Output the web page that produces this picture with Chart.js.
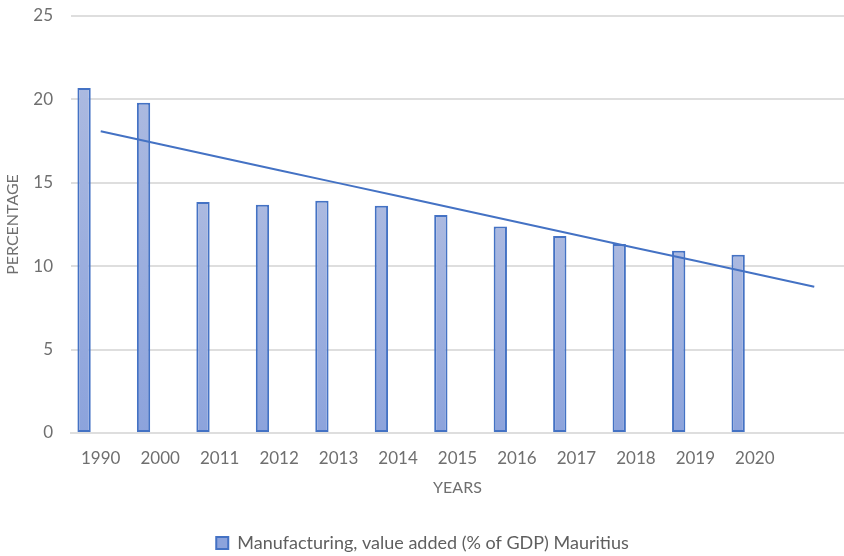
<!DOCTYPE html>
<html>
<head>
<meta charset="utf-8">
<script src="https://cdn.jsdelivr.net/npm/chart.js@4"></script>
<style>
  html, body { margin: 0; padding: 0; background: #ffffff; }
  canvas { display: block; }
</style>
</head>
<body>
<canvas id="barChart" width="844" height="556"></canvas>
<script>
// Manufacturing, value added (% of GDP), Mauritius
const years = ['1990', '2000', '2011', '2012', '2013', '2014', '2015', '2016', '2017', '2018', '2019', '2020'];
const manufacturing = [20.68, 19.80, 13.85, 13.69, 13.93, 13.63, 13.07, 12.38, 11.81, 11.33, 10.93, 10.68];
const yTicks = [0, 5, 10, 15, 20, 25];
const forecastPeriods = 1;

const BLUE = '#4472c4';
const GREY = '#6f6f6f';
const GRID = '#dedede';

// least squares line over 1..n, extended forward by a number of periods
function linearTrend(values, forward) {
	const n = values.length;
	let sx = 0, sy = 0, sxy = 0, sxx = 0;
	values.forEach((v, i) => {
		const x = i + 1;
		sx += x; sy += v; sxy += x * v; sxx += x * x;
	});
	const slope = (n * sxy - sx * sy) / (n * sxx - sx * sx);
	const icept = (sy - slope * sx) / n;
	const out = [];
	for (let x = 1; x <= n + forward; x++) out.push(icept + slope * x);
	return out;
}

const labels = years.concat(Array(forecastPeriods).fill(''));
const trend = linearTrend(manufacturing, forecastPeriods);

// light at the top of each bar, a little deeper at the base
function barFill(ctx) {
	const chart = ctx.chart;
	if (ctx.type !== 'data' || !chart.chartArea || !chart.scales.y) return '#9caedd';
	const y = chart.scales.y;
	const top = y.getPixelForValue(ctx.raw);
	const base = y.getPixelForValue(0);
	if (!isFinite(top) || base - top < 1) return '#9caedd';
	const g = chart.ctx.createLinearGradient(0, top, 0, base);
	g.addColorStop(0, '#abb9e0');
	g.addColorStop(1, '#8ca3dc');
	return g;
}

Chart.defaults.font.family = 'Lato, "Open Sans", sans-serif';
Chart.defaults.color = GREY;

new Chart(document.getElementById('barChart'), {
	type: 'bar',
	data: {
		labels: labels,
		datasets: [
			{
				type: 'line',
				label: 'Linear trend',
				data: trend,
				borderColor: BLUE,
				borderWidth: 2,
				pointRadius: 0,
				tension: 0,
				fill: false,
				order: 0
			},
			{
				label: 'Manufacturing, value added (% of GDP) Mauritius',
				data: manufacturing,
				backgroundColor: barFill,
				borderColor: BLUE,
				borderWidth: 2,
				borderSkipped: false,
				categoryPercentage: 1.12,
				barPercentage: 0.4,
				order: 1
			},
			{
				// empty second series keeps the bars in the left half of each slot
				label: '',
				data: [],
				categoryPercentage: 1.12,
				barPercentage: 0.4,
				order: 2
			}
		]
	},
	options: {
		responsive: false,
		animation: false,
		layout: {
			padding: { left: 1, right: 0, top: 0, bottom: -6 }
		},
		plugins: {
			legend: {
				position: 'bottom',
				labels: {
					filter: item => item.text === 'Manufacturing, value added (% of GDP) Mauritius',
					boxWidth: 12,
					boxHeight: 12,
					padding: 0,
					font: { size: 18 },
					color: '#5f5f5f'
				}
			},
			tooltip: { enabled: false }
		},
		scales: {
			x: {
				grid: { display: false, drawTicks: false },
				border: { display: true, color: GRID, width: 2 },
				ticks: { padding: 15, font: { size: 17 }, maxRotation: 0, autoSkip: false },
				title: {
					display: true,
					text: 'YEARS',
					font: { size: 16 },
					padding: { top: 0, bottom: 37 }
				},
				afterFit: axis => { axis.height = 101; }
			},
			y: {
				min: yTicks[0],
				max: yTicks[yTicks.length - 1],
				afterBuildTicks: axis => { axis.ticks = yTicks.map(v => ({ value: v })); },
				grid: { color: GRID, lineWidth: 2, drawTicks: false },
				border: { display: false },
				ticks: { padding: 18, font: { size: 17 } },
				title: {
					display: true,
					text: 'PERCENTAGE',
					font: { size: 16 },
					padding: { top: 2, bottom: 0 }
				},
				afterFit: axis => {
					axis.width = 70;
					axis.paddingTop = 16;
					axis.paddingBottom = 0;
				}
			}
		}
	}
});
</script>
</body>
</html>
